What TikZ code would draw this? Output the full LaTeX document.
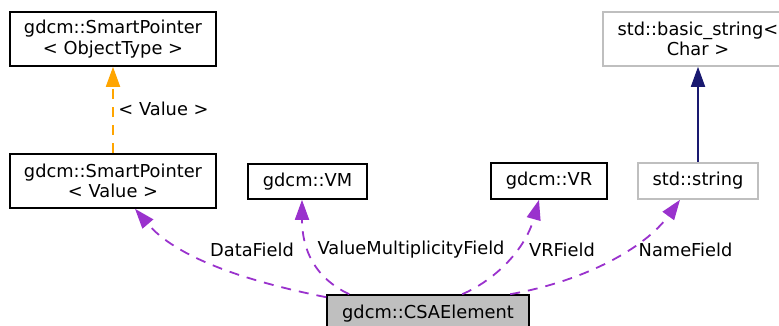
\documentclass[tikz,border=0pt]{standalone}
\usepackage{fontspec}
\setmainfont{DejaVu Sans}
\usetikzlibrary{arrows.meta,calc}
\definecolor{edgepurple}{HTML}{9A32CD}
\definecolor{edgeorange}{HTML}{FFA500}
\definecolor{edgenavy}{HTML}{191970}
\definecolor{boxgray}{HTML}{BFBFBF}
\tikzset{
  cls/.style={draw=black, line width=1.6pt, fill=white, inner sep=0pt, align=center,
    font=\fontsize{17.8}{20.5}\selectfont},
  extcls/.style={cls, draw=boxgray},
  curcls/.style={cls, fill=boxgray},
  lbl/.style={inner sep=0pt, font=\fontsize{17.8}{20.5}\selectfont},
  tipx/.style={-{Triangle[length=20pt,width=14pt]}},
  member/.style={tipx, draw=edgepurple, line width=1.8pt, dash pattern=on 10pt off 8pt},
  tmpl/.style={tipx, draw=edgeorange, line width=1.8pt, dash pattern=on 10pt off 8pt},
  inherit/.style={tipx, draw=edgenavy, line width=1.8pt},
}
\begin{document}
\begin{tikzpicture}[x=1pt,y=-1pt]
\useasboundingbox (0,0) rectangle (779,326);
\node[cls, minimum width=206pt, minimum height=54pt] (spo) at (113,39) {gdcm::SmartPointer\\< ObjectType >};
\node[cls, minimum width=206pt, minimum height=54pt] (spv) at (113,181) {gdcm::SmartPointer\\< Value >};
\node[cls, minimum width=119pt, minimum height=35pt] (vm) at (307.5,181.5) {gdcm::VM};
\node[cls, minimum width=116pt, minimum height=36pt] (vr) at (549,181) {gdcm::VR};
\node[extcls, minimum width=120pt, minimum height=36pt] (str) at (698,181) {std::string};
\node[extcls, minimum width=190pt, minimum height=54pt] (bstr) at (698,39) {std::basic\_string<\\Char >};
\node[curcls, minimum width=202pt, minimum height=36pt, text depth=0pt] (csa) at (428,313) {\raisebox{2pt}{gdcm::CSAElement}};

\draw[tmpl] (spv.north) -- (spo.south);
\node[lbl] (lv) at (163.5,109) {< Value >};

\draw[inherit] (str.north) -- (bstr.south);

\draw[member] ($(csa.north west)+(0,3)$) .. controls (240,280) and (175,256) .. ($(spv.south)+(22,0)$);
\draw[member] ($(csa.north west)+(23,0)$) .. controls (315,278) and (302,250) .. ($(vm.south)+(-5.5,0)$);
\draw[member] ($(csa.north west)+(136,0)$) .. controls (495,280) and (525,250) .. ($(vr.south)+(-10,0)$);
\draw[member] ($(csa.north west)+(184,0)$) .. controls (585,281) and (645,248) .. ($(str.south)+(-18,0)$);

\node[lbl] (l1) at (252,250) {DataField};
\node[lbl] (l2) at (411,250) {ValueMultiplicityField};
\node[lbl] (l3) at (562,250) {VRField};
\node[lbl] (l4) at (685.5,250) {NameField};
\end{tikzpicture}
\end{document}
